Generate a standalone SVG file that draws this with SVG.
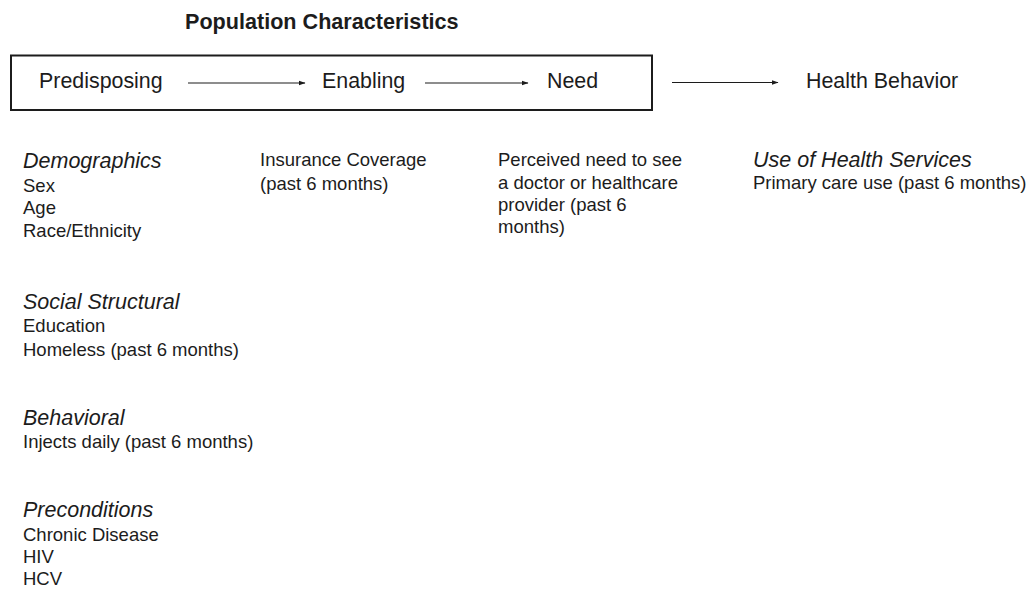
<svg xmlns="http://www.w3.org/2000/svg" width="1035" height="590" viewBox="0 0 1035 590">
  <style>
    text { font-family: "Liberation Sans", Arial, sans-serif; fill: #1c1c1c; }
    .title { font-size: 21.6px; font-weight: bold; }
    .stage { font-size: 21.4px; }
    .head { font-size: 21.5px; font-style: italic; }
    .item { font-size: 18.5px; }
    .frame { fill: none; stroke: #1c1c1c; stroke-width: 2; }
    .link { fill: none; stroke: #1c1c1c; stroke-width: 1.2; }
  </style>
  <defs>
    <marker id="arrow" markerWidth="7" markerHeight="6" refX="6.5" refY="3" orient="auto" markerUnits="userSpaceOnUse">
      <path d="M0,0.6 L7,3 L0,5.4 Z" fill="#1c1c1c"/>
    </marker>
  </defs>

  <rect width="1035" height="590" fill="#ffffff"/>

  <g id="title">
    <text class="title" x="185" y="29">Population Characteristics</text>
  </g>

  <!-- population characteristics frame -->
  <g id="population-frame">
    <rect class="frame" x="11" y="55.5" width="641" height="54.5"/>
  </g>

  <g id="predisposing">
    <text class="stage" x="39" y="88">Predisposing</text>
  </g>
  <g id="enabling">
    <text class="stage" x="322" y="88">Enabling</text>
  </g>
  <g id="need">
    <text class="stage" x="547" y="88">Need</text>
  </g>
  <g id="health-behavior">
    <text class="stage" x="806" y="88">Health Behavior</text>
  </g>

  <g id="connectors">
    <line class="link" x1="188" y1="83" x2="305" y2="83" marker-end="url(#arrow)"/>
    <line class="link" x1="425" y1="83" x2="528" y2="83" marker-end="url(#arrow)"/>
    <line class="link" x1="672" y1="82.5" x2="778" y2="82.5" marker-end="url(#arrow)"/>
  </g>

  <!-- predisposing variables -->
  <g id="demographics">
    <text class="head" x="23" y="168">Demographics</text>
    <text class="item" x="23" y="192">Sex</text>
    <text class="item" x="23" y="214">Age</text>
    <text class="item" x="23" y="237">Race/Ethnicity</text>
  </g>
  <g id="social-structural">
    <text class="head" x="23" y="309">Social Structural</text>
    <text class="item" x="23" y="332">Education</text>
    <text class="item" x="23" y="355.5">Homeless (past 6 months)</text>
  </g>
  <g id="behavioral">
    <text class="head" x="23" y="424.5">Behavioral</text>
    <text class="item" x="23" y="447.5">Injects daily (past 6 months)</text>
  </g>
  <g id="preconditions">
    <text class="head" x="23" y="517">Preconditions</text>
    <text class="item" x="23" y="541">Chronic Disease</text>
    <text class="item" x="23" y="563">HIV</text>
    <text class="item" x="23" y="585">HCV</text>
  </g>

  <!-- enabling variables -->
  <g id="insurance">
    <text class="item" x="260" y="166">Insurance Coverage</text>
    <text class="item" x="260" y="189.5">(past 6 months)</text>
  </g>

  <!-- need variables -->
  <g id="perceived-need">
    <text class="item" x="498" y="166">Perceived need to see</text>
    <text class="item" x="498" y="188.5">a doctor or healthcare</text>
    <text class="item" x="498" y="211">provider (past 6</text>
    <text class="item" x="498" y="233">months)</text>
  </g>

  <!-- health behavior outcome -->
  <g id="health-services">
    <text class="head" x="753" y="167">Use of Health Services</text>
    <text class="item" x="753" y="189">Primary care use (past 6 months)</text>
  </g>
</svg>
